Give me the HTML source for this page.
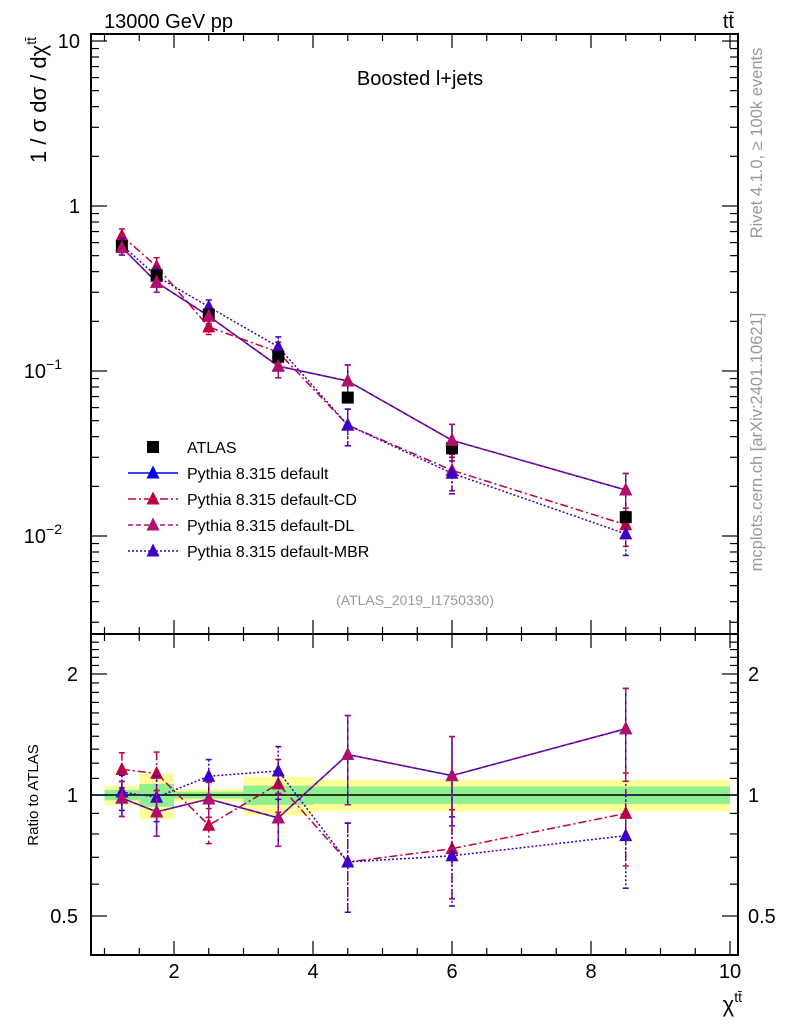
<!DOCTYPE html>
<html><head><meta charset="utf-8"><style>
body{margin:0;background:#fff}
svg{display:block;font-family:"Liberation Sans",sans-serif}
</style></head><body>
<svg id="c" width="786" height="1024" xmlns="http://www.w3.org/2000/svg"></svg>
<script>
const xs = [1.25,1.75,2.5,3.5,4.5,6,8.5];
const binEdges = [1,1.5,2,3,4,5,7,10];
const atlas = [0.57,0.38,0.22,0.122,0.069,0.034,0.013];
const yellowErr = [0.055,0.13,0.035,0.11,0.09,0.09,0.09];
const greenErr = [0.03,0.065,0.02,0.055,0.05,0.05,0.05];
const sDefault = [0.56,0.345,0.215,0.107,0.087,0.038,0.019];
const sCD = [0.66,0.43,0.185,0.13,0.047,0.025,0.0117];
const sDL = [0.56,0.345,0.215,0.107,0.087,0.038,0.019];
const sMBR = [0.58,0.375,0.245,0.14,0.047,0.024,0.0103];
const relErr = [0.1,0.13,0.1,0.15,0.25,0.25,0.26];
const xTicks = [2,4,6,8,10];

const NS="http://www.w3.org/2000/svg";
const svg=document.getElementById('c');
function el(t,a,p){const e=document.createElementNS(NS,t);for(const k in a)e.setAttribute(k,a[k]);(p||svg).appendChild(e);return e;}
const L=91,R=738,T=34,M=634,B=955;
const X=v=>104.5+(v-1)*69.5;
const Y=v=>206-165*Math.log10(v);
const RY=v=>795-402*Math.log10(v);

const gb=el('g',{});
for(let i=0;i<7;i++){
  const r1=el('rect',{x:X(binEdges[i]),width:X(binEdges[i+1])-X(binEdges[i]),y:RY(1+yellowErr[i]),height:RY(1-yellowErr[i])-RY(1+yellowErr[i]),fill:'#ffff99'},gb);
  
  const r2=el('rect',{x:X(binEdges[i]),width:X(binEdges[i+1])-X(binEdges[i]),y:RY(1+greenErr[i]),height:RY(1-greenErr[i])-RY(1+greenErr[i]),fill:'#90f090'},gb);
  
}
el('line',{x1:L,x2:R,y1:RY(1),y2:RY(1),stroke:'#000','stroke-width':1.5});

const f1=el('rect',{x:L,y:T,width:R-L,height:M-T,fill:'none',stroke:'#000','stroke-width':2});

const f2=el('rect',{x:L,y:M,width:R-L,height:B-M,fill:'none',stroke:'#000','stroke-width':2});


for(let v=1;v<=10;v+=0.5){
  const maj=Number.isInteger(v/2)&&v>=2;
  const len=maj?14:7;
  for(const [yb,dir] of [[M,-1],[T,1],[B,-1],[M,1]]){
    el('line',{x1:X(v),x2:X(v),y1:yb,y2:yb+dir*len,stroke:'#000','stroke-width':1.2});
  }
}
xTicks.forEach(v=>{const t=el('text',{x:X(v),y:978,'font-size':20,'text-anchor':'middle'});t.textContent=v;
});

for(let d=-3;d<=1;d++){for(let m=1;m<=9;m++){const v=m*Math.pow(10,d);const y=Y(v);if(y<T||y>M)continue;
 const len=m==1?16:8;
 el('line',{x1:L,x2:L+len,y1:y,y2:y,stroke:'#000','stroke-width':1.2});
 el('line',{x1:R,x2:R-len,y1:y,y2:y,stroke:'#000','stroke-width':1.2});}}
const ylabs=[[10,'10'],[1,'1'],[0.1,'10<tspan dy="-9" font-size="14">−1</tspan>'],[0.01,'10<tspan dy="-9" font-size="14">−2</tspan>']];
ylabs.forEach(([v,s])=>{const t=el('text',{x:v>=1?80:62,y:Y(v)+7,'font-size':20,'text-anchor':'end'});t.innerHTML=s;
});
for(let v=0.4;v<=2.5;v+=0.1){const y=RY(v);if(y<M||y>B)continue;
 const maj=Math.abs(v-0.5)<1e-6||Math.abs(v-1)<1e-6||Math.abs(v-2)<1e-6;const len=maj?16:8;
 el('line',{x1:L,x2:L+len,y1:y,y2:y,stroke:'#000','stroke-width':1.2});
 el('line',{x1:R,x2:R-len,y1:y,y2:y,stroke:'#000','stroke-width':1.2});}
[[2,'2'],[1,'1'],[0.5,'0.5']].forEach(([v,s])=>{
 const t=el('text',{x:78,y:RY(v)+7,'font-size':20,'text-anchor':'end'});t.textContent=s;
 
 const t2=el('text',{x:748,y:RY(v)+7,'font-size':20});t2.textContent=s;
 });

const series=[
 {n:'default',d:sDefault,c:'#0000ee',dash:''},
 {n:'default-cd',d:sCD,c:'#c0003c',dash:'8,3,2,3'},
 {n:'default-mbr',d:sMBR,c:'#3c00c8',dash:'2,2'},
 {n:'default-dl',d:sDL,c:'#b0106a',dash:'5,3'}];
function tri(g,x,y,c){el('path',{d:`M${x-6.5},${y+5.5}L${x+6.5},${y+5.5}L${x},${y-7.5}Z`,fill:c},g);}
series.forEach(s=>{
 const g=el('g',{});
 const rat=s.d.map((v,i)=>v/atlas[i]);
 for(const [vals,F] of [[s.d,Y],[rat,RY]]){
  el('polyline',{points:xs.map((x,i)=>X(x)+','+F(vals[i])).join(' '),fill:'none',stroke:s.c,'stroke-width':1.5,'stroke-dasharray':s.dash},g);
  xs.forEach((x,i)=>{const v=vals[i],e=relErr[i]*v;
   el('line',{x1:X(x),x2:X(x),y1:F(v+e),y2:F(v-e),stroke:s.c,'stroke-width':1.5,'stroke-dasharray':s.dash},g);
   el('line',{x1:X(x)-3,x2:X(x)+3,y1:F(v+e),y2:F(v+e),stroke:s.c,'stroke-width':1.5},g);
   el('line',{x1:X(x)-3,x2:X(x)+3,y1:F(v-e),y2:F(v-e),stroke:s.c,'stroke-width':1.5},g);
   tri(g,X(x),F(v),s.c);});
 }
});
const ga=el('g',{});
xs.forEach((x,i)=>{el('rect',{x:X(x)-6,y:Y(atlas[i])-6,width:12,height:12,fill:'#000'},ga);});
series.slice(3).forEach(s=>xs.forEach((x,i)=>tri(ga,X(x),Y(s.d[i]),s.c)));

const lg=el('g',{});
el('rect',{x:147,y:441,width:12,height:12,fill:'#000'},lg);
const lt=el('text',{x:187,y:453,'font-size':16},lg);lt.textContent='ATLAS';
const legOrder=[['Pythia 8.315 default','#0000ee',''],['Pythia 8.315 default-CD','#c0003c','8,3,2,3'],['Pythia 8.315 default-DL','#b0106a','5,3'],['Pythia 8.315 default-MBR','#3c00c8','2,2']];
legOrder.forEach((l,i)=>{const y=473+26*i;
 const e=el('g',{},lg);
 el('line',{x1:128,x2:178,y1:y,y2:y,stroke:l[1],'stroke-width':1.5,'stroke-dasharray':l[2]},e);
 tri(e,153,y,l[1]);
 const t=el('text',{x:187,y:y+6,'font-size':16},e);t.textContent=l[0];});
</script>
<svg width="786" height="1024" style="position:absolute;left:0;top:0" xmlns="http://www.w3.org/2000/svg">
<text x="104" y="28" font-size="20" font-family="Liberation Sans, sans-serif">13000 GeV pp</text>
<text x="734" y="28" font-size="20" text-anchor="end" font-family="Liberation Sans, sans-serif">tt̄</text>
<text x="420" y="85" font-size="20" text-anchor="middle" font-family="Liberation Sans, sans-serif">Boosted l+jets</text>
<text x="415" y="605" font-size="14" fill="#999" text-anchor="middle" font-family="Liberation Sans, sans-serif">(ATLAS_2019_I1750330)</text>
<text transform="translate(46,100) rotate(-90)" font-size="22" text-anchor="middle" font-family="Liberation Sans, sans-serif">1 / σ dσ / dχ<tspan dy="-10" font-size="14">tt̄</tspan></text>
<text transform="translate(38,795) rotate(-90)" font-size="15" text-anchor="middle" font-family="Liberation Sans, sans-serif">Ratio to ATLAS</text>
<text x="742" y="1012" font-size="22" text-anchor="end" font-family="Liberation Sans, sans-serif">χ<tspan dy="-10" font-size="14">tt̄</tspan></text>
<text transform="translate(762,143) rotate(-90)" font-size="16.5" fill="#999" text-anchor="middle" font-family="Liberation Sans, sans-serif">Rivet 4.1.0, ≥ 100k events</text>
<text transform="translate(762,442) rotate(-90)" font-size="16.5" fill="#999" text-anchor="middle" font-family="Liberation Sans, sans-serif">mcplots.cern.ch [arXiv:2401.10621]</text>
</svg>
</body></html>
